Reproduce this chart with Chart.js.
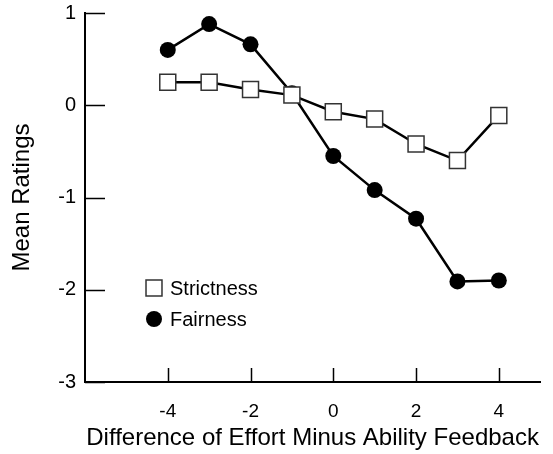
<!DOCTYPE html>
<html>
<head>
<meta charset="utf-8">
<script src="https://cdn.jsdelivr.net/npm/chart.js"></script>
<style>
  html, body { margin: 0; padding: 0; background: #fff; }
  #wrap { width: 553px; height: 454px; position: relative; }
</style>
</head>
<body>
<div id="wrap"><canvas id="lineChart"></canvas></div>
<script>
// Data
const xValues = [-4, -3, -2, -1, 0, 1, 2, 3, 4];
const strictness = [0.25, 0.25, 0.17, 0.11, -0.07, -0.15, -0.42, -0.60, -0.11];
const fairness = [0.60, 0.88, 0.66, 0.13, -0.55, -0.92, -1.23, -1.91, -1.90];
const xTicks = [-4, -2, 0, 2, 4];
const yTicks = [-3, -2, -1, 0, 1];
const seriesNames = ["Strictness", "Fairness"];

const FONT = "'Liberation Sans', Arial, Helvetica, sans-serif";

// inward tick marks + in-plot legend
const extras = {
    id: "extras",
    afterDraw(chart) {
        const ctx = chart.ctx;
        const area = chart.chartArea;
        const xs = chart.scales.x, ys = chart.scales.y;
        ctx.save();
        ctx.strokeStyle = "#000";
        ctx.lineWidth = 1.5;
        ctx.beginPath();
        yTicks.forEach(v => {
            const py = Math.round(ys.getPixelForValue(v)) + 0.5;
            ctx.moveTo(area.left, py);
            ctx.lineTo(area.left + 20, py);
        });
        xTicks.forEach(v => {
            const px = Math.round(xs.getPixelForValue(v)) + 0.5;
            ctx.moveTo(px, area.bottom);
            ctx.lineTo(px, area.bottom - 14);
        });
        ctx.stroke();

        // legend
        const lx = area.left + 69, ly = area.top + 275, gap = 31;
        chart.data.datasets.forEach((ds, i) => {
            const y = ly + i * gap;
            ctx.fillStyle = ds.pointBackgroundColor;
            ctx.strokeStyle = ds.pointBorderColor;
            ctx.lineWidth = ds.pointBorderWidth;
            Chart.helpers.drawPoint(ctx, {
                pointStyle: ds.pointStyle,
                radius: ds.pointRadius,
                borderWidth: ds.pointBorderWidth
            }, lx, y);
            ctx.fillStyle = "#000";
            ctx.font = "20px " + FONT;
            ctx.textBaseline = "middle";
            ctx.textAlign = "left";
            ctx.fillText(ds.label, lx + 16, y + 1);
        });
        ctx.restore();
    }
};

const data = {
    datasets: [
        {
            label: seriesNames[0],
            data: xValues.map((x, i) => ({ x: x, y: strictness[i] })),
            borderColor: "#000",
            borderWidth: 2.5,
            pointStyle: "rect",
            pointRadius: 11.3,
            pointBackgroundColor: "#fff",
            pointBorderColor: "#333",
            pointBorderWidth: 1.5
        },
        {
            label: seriesNames[1],
            data: xValues.map((x, i) => ({ x: x, y: fairness[i] })),
            borderColor: "#000",
            borderWidth: 2.5,
            pointStyle: "circle",
            pointRadius: 8,
            pointBackgroundColor: "#000",
            pointBorderColor: "#000",
            pointBorderWidth: 0
        }
    ]
};

const config = {
    type: "line",
    data: data,
    options: {
        responsive: true,
        maintainAspectRatio: false,
        animation: false,
        clip: false,
        layout: { padding: { left: 0, right: 8, top: 10, bottom: 0 } },
        plugins: {
            legend: { display: false },
            tooltip: { enabled: false }
        },
        scales: {
            x: {
                type: "linear",
                min: -6,
                max: 5,
                afterBuildTicks: s => { s.ticks = xTicks.map(v => ({ value: v })); },
                afterFit: s => { s.height = 72; },
                grid: { display: false },
                border: { display: true, color: "#000", width: 2 },
                ticks: {
                    color: "#000",
                    padding: 10,
                    maxRotation: 0,
                    font: { family: FONT, size: 19 }
                },
                title: {
                    display: true,
                    text: "Difference of Effort Minus Ability Feedback",
                    color: "#000",
                    font: { family: FONT, size: 24 },
                    padding: { top: 0, bottom: 1 }
                }
            },
            y: {
                min: -3,
                max: 1,
                afterBuildTicks: s => { s.ticks = yTicks.map(v => ({ value: v })); },
                afterFit: s => { s.width = 85; },
                grid: { display: false },
                border: { display: true, color: "#000", width: 2 },
                ticks: {
                    color: "#000",
                    padding: 1,
                    font: { family: FONT, size: 20 }
                },
                title: {
                    display: true,
                    text: "Mean Ratings",
                    color: "#000",
                    font: { family: FONT, size: 24 },
                    padding: { top: 8, bottom: 0 }
                }
            }
        }
    },
    plugins: [extras]
};

new Chart(document.getElementById("lineChart").getContext("2d"), config);
</script>
</body>
</html>
